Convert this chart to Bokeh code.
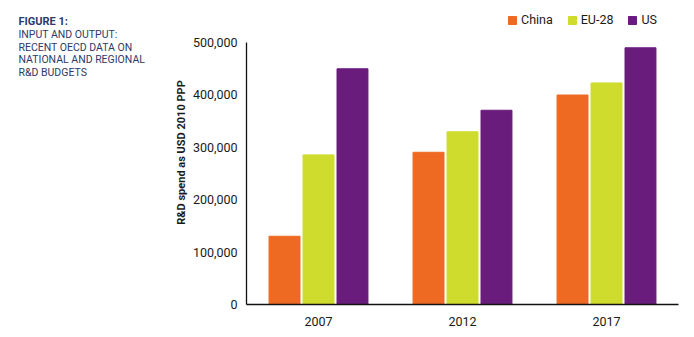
from bokeh.plotting import figure
from bokeh.layouts import row
from bokeh.models import ColumnDataSource, FactorRange, Range1d, Legend, LegendItem, Label, NumeralTickFormatter
from bokeh.transform import dodge
from bokeh.embed import file_html
from bokeh.resources import INLINE

years = ["2007", "2012", "2017"]
china = [130000, 290000, 399000]
eu28 = [285000, 329000, 422000]
us = [449000, 370000, 489000]
series_names = ["China", "EU-28", "US"]
colors = ["#EE6A22", "#CFDC2E", "#6A1C7C"]
y_ticks = [0, 100000, 200000, 300000, 400000, 500000]
title_head = "FIGURE 1:"
title_lines = ["INPUT AND OUTPUT:", "RECENT OECD DATA ON", "NATIONAL AND REGIONAL", "R&D BUDGETS"]

FONT = "Roboto"
Y_MAX = 500000
FRAME_H = 304
Y_TOP = Y_MAX * FRAME_H / 262.5  # frame reaches canvas top; axis bounded at 500k
LEFT_W = 170
TOTAL_W = 694
H = 337

# ---- text panel (left) ----
t = figure(width=LEFT_W, height=H, x_range=Range1d(0, LEFT_W), y_range=Range1d(0, FRAME_H),
           output_backend="svg", toolbar_location=None,
           min_border_left=0, min_border_right=0, min_border_top=0, min_border_bottom=H - FRAME_H,
           x_axis_type=None, y_axis_type=None)
t.outline_line_color = None
t.grid.visible = False
t.add_layout(Label(x=18, y=FRAME_H - 21, x_units="screen", y_units="screen", text=title_head,
                   text_font=FONT, text_font_style="bold", text_font_size="11px",
                   text_color="#2B3A6B", text_baseline="middle"))
for i, line in enumerate(title_lines):
    t.add_layout(Label(x=18, y=FRAME_H - 34 - i * 12.7, x_units="screen", y_units="screen", text=line,
                       text_font=FONT, text_font_size="10.5px",
                       text_color="#2B3A6B", text_baseline="middle"))

# ---- chart (right) ----
source = ColumnDataSource(data=dict(years=years, china=china, eu28=eu28, us=us))

p = figure(width=TOTAL_W - LEFT_W, height=H, x_range=FactorRange(*years, range_padding=0),
           y_range=Range1d(0, Y_TOP), output_backend="svg", toolbar_location=None,
           min_border_left=246 - LEFT_W, min_border_right=16, min_border_top=0, min_border_bottom=H - FRAME_H)
p.outline_line_color = None
p.grid.visible = False
p.background_fill_color = "white"
p.border_fill_color = "white"

w = 0.215
off = 0.236
r1 = p.vbar(x=dodge("years", -off, range=p.x_range), top="china", width=w, source=source, color=colors[0])
r2 = p.vbar(x=dodge("years", 0, range=p.x_range), top="eu28", width=w, source=source, color=colors[1])
r3 = p.vbar(x=dodge("years", off, range=p.x_range), top="us", width=w, source=source, color=colors[2])

for ax in (p.xaxis[0], p.yaxis[0]):
    ax.major_tick_line_color = None
    ax.minor_tick_line_color = None
    ax.axis_line_color = "#111111"
    ax.axis_line_width = 1.3
    ax.major_label_text_font = FONT
    ax.major_label_text_font_size = "12.5px"
    ax.major_label_text_color = "#1a1a1a"

p.yaxis.bounds = (0, Y_MAX)
p.yaxis.ticker = y_ticks
p.yaxis.formatter = NumeralTickFormatter(format="0,0")
p.yaxis.major_label_standoff = 3
p.yaxis.axis_label = "R&D spend as USD 2010 PPP"
p.yaxis.axis_label_text_font = FONT
p.yaxis.axis_label_text_font_style = "bold"
p.yaxis.axis_label_text_font_size = "11px"
p.yaxis.axis_label_text_color = "#1a1a1a"
p.yaxis.axis_label_standoff = 2
p.xaxis.major_label_standoff = 6

legend = Legend(items=[LegendItem(label=series_names[0], renderers=[r1]),
                       LegendItem(label=series_names[1], renderers=[r2]),
                       LegendItem(label=series_names[2], renderers=[r3])],
                orientation="horizontal", location=(261, 277),
                label_text_font=FONT, label_text_font_size="12.5px", label_text_color="#1a1a1a",
                glyph_width=10, glyph_height=10, spacing=14, label_standoff=4,
                label_height=14,
                border_line_color=None, background_fill_alpha=0, padding=0, margin=0)
p.add_layout(legend)

layout = row(t, p, spacing=0)
open("out.html", "w").write(file_html(layout, INLINE))
